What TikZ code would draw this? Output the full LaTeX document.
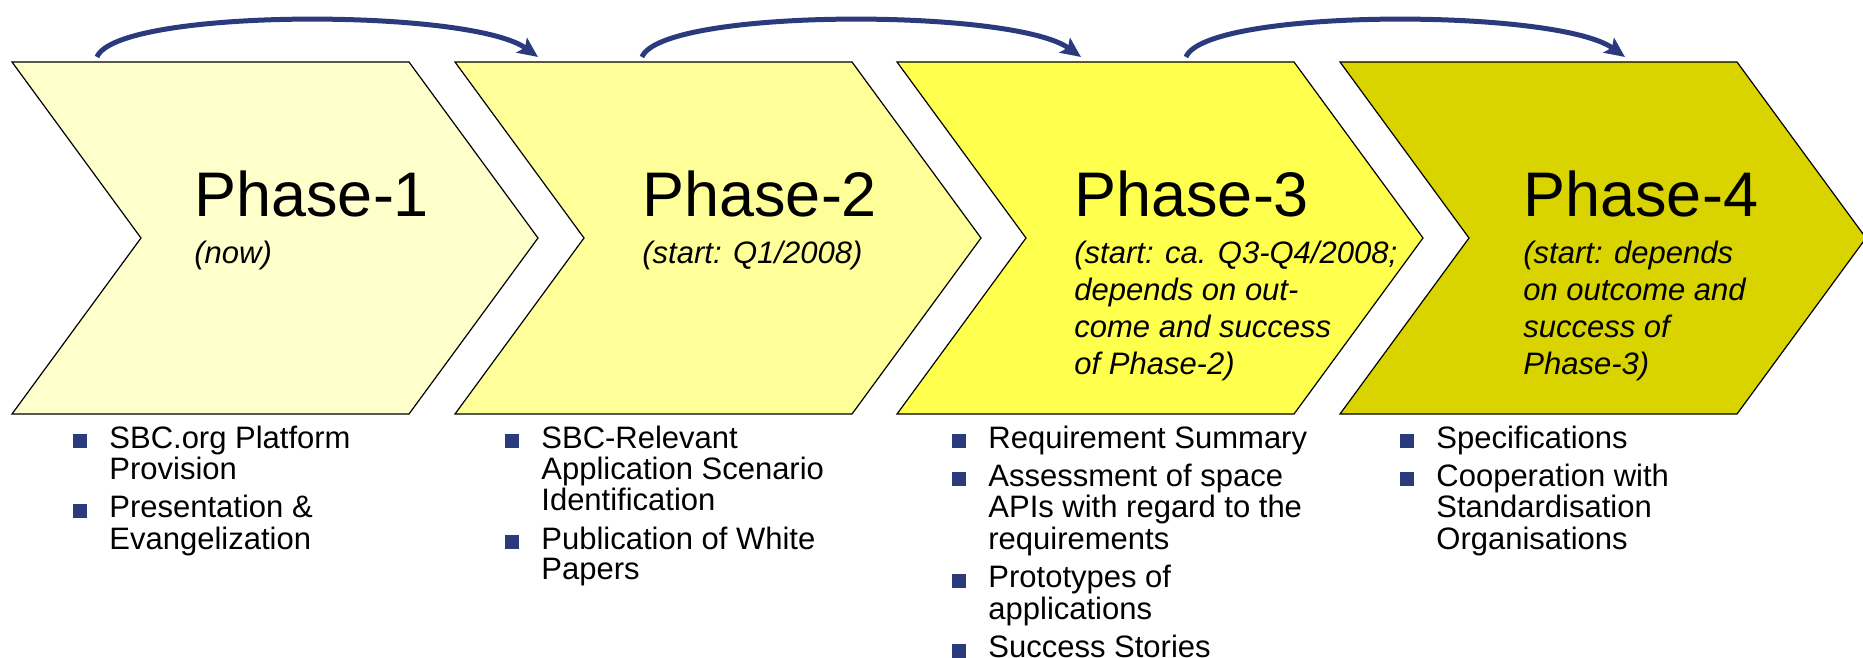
\documentclass[tikz,border=0pt]{standalone}
\usepackage{fontspec}
\setmainfont{Liberation Sans}
\usetikzlibrary{arrows.meta}

\definecolor{phaseA}{RGB}{255,255,204}
\definecolor{phaseB}{RGB}{255,255,153}
\definecolor{phaseC}{RGB}{255,255,77}
\definecolor{phaseD}{RGB}{217,211,0}
\definecolor{navy}{RGB}{43,58,124}
\newcommand{\sqbullet}{\textcolor{navy}{\rule{7pt}{7pt}}}

\begin{document}
\begin{tikzpicture}[x=0.5pt,y=-0.5pt,
	chevron/.style={draw=black, line width=0.6pt, line join=miter},
	title/.style={anchor=base west, inner sep=0pt, font=\fontsize{31.5}{36}\selectfont},
	note/.style={anchor=base west, inner sep=0pt, font=\itshape\fontsize{15.5}{18.5}\selectfont},
	list/.style={anchor=base west, inner sep=0pt, font=\fontsize{15.5}{15}\selectfont},
	jump/.style={draw=navy, line width=2.5pt, -{Stealth[length=10pt,width=9pt,inset=2pt]}}]
	\useasboundingbox (0,0) rectangle (1863,658);
	% Chevrons
	\foreach \xl/\col in {12/phaseA,455/phaseB,897/phaseC,1340/phaseD}
	\draw[chevron,fill=\col] (\xl,62) -- ++(397,0) -- ++(129,176) -- ++(-129,176) -- ++(-397,0) -- ++(129,-176) -- cycle;
	% Titles
	\foreach \n/\x in {1/194,2/642,3/1074,4/1523}
	\node[title] (title\n) at (\x,216) {Phase-\n};
	\node[note] (note1) at (194,263) {(now)};
	\node[note] (note2) at (642,263) {(start: Q1/2008)};
	\node[note] (note3) at (1074,263) {\begin{tabular}[t]{@{}l@{}}
		(start: ca. Q3-Q4/2008;\\depends on out-\\come and success\\of Phase-2)
	\end{tabular}};
	\node[note] (note4) at (1523,263) {\begin{tabular}[t]{@{}l@{}}
		(start: depends\\on outcome and\\success of\\Phase-3)
	\end{tabular}};
	% Bullet lists
	\node[list] (list1) at (73,448) {\begin{tabular}[t]{@{}l@{\hspace{11pt}}l@{}}
		\sqbullet & SBC.org Platform\\ & Provision\\[3.5pt]
		\sqbullet & Presentation \&\\ & Evangelization
	\end{tabular}};
	\node[list] (list2) at (505,448) {\begin{tabular}[t]{@{}l@{\hspace{11pt}}l@{}}
		\sqbullet & SBC-Relevant\\ & Application Scenario\\ & Identification\\[3.5pt]
		\sqbullet & Publication of White\\ & Papers
	\end{tabular}};
	\node[list] (list3) at (952,448) {\begin{tabular}[t]{@{}l@{\hspace{11pt}}l@{}}
		\sqbullet & Requirement Summary\\[3.5pt]
		\sqbullet & Assessment of space\\ & APIs with regard to the\\ & requirements\\[3.5pt]
		\sqbullet & Prototypes of\\ & applications\\[3.5pt]
		\sqbullet & Success Stories
	\end{tabular}};
	\node[list] (list4) at (1400,448) {\begin{tabular}[t]{@{}l@{\hspace{11pt}}l@{}}
		\sqbullet & Specifications\\[3.5pt]
		\sqbullet & Cooperation with\\ & Standardisation\\ & Organisations
	\end{tabular}};
	% Arrows
	\foreach \i/\xs/\xe in {1/97/538,2/642/1081,3/1186/1625}{
		\coordinate (from\i) at (\xs,57);
		\coordinate (to\i) at (\xe,57);
		\draw[jump] (from\i) .. controls +(20,-49) and +(-68,-49) .. (to\i);
	}
\end{tikzpicture}
\end{document}
